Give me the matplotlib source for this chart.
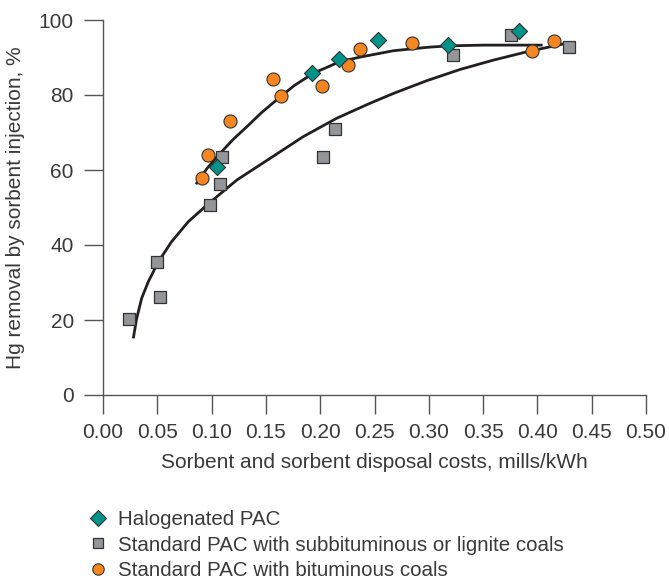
import matplotlib
matplotlib.use("Agg")
import matplotlib.pyplot as plt
from matplotlib.lines import Line2D

# ---- data ----
halo_x = [0.1047, 0.1927, 0.2170, 0.2535, 0.3180, 0.3833]
halo_y = [60.8, 85.9, 89.7, 94.7, 93.3, 97.2]

sub_x = [0.0242, 0.0500, 0.0525, 0.0988, 0.1080, 0.1096, 0.2026, 0.2139, 0.3220, 0.3754, 0.4294]
sub_y = [20.4, 35.6, 26.2, 50.6, 56.4, 63.5, 63.6, 70.9, 90.7, 96.0, 92.7]

bit_x = [0.0912, 0.0964, 0.1170, 0.1568, 0.1640, 0.2020, 0.2260, 0.2370, 0.2842, 0.3947, 0.4156]
bit_y = [58.0, 64.0, 73.2, 84.3, 79.7, 82.5, 87.9, 92.2, 94.0, 91.7, 94.4]

# fitted curves, read as points along the drawn lines
upper_x = [0.0856, 0.0960, 0.1077, 0.1200, 0.1323, 0.1460, 0.1599, 0.1760, 0.1937, 0.2182,
           0.2366, 0.2673, 0.2980, 0.3180, 0.3500, 0.4048]
upper_y = [56.2, 60.5, 64.4, 68.2, 71.5, 75.3, 78.7, 82.5, 85.8, 88.9,
           90.1, 91.8, 92.7, 93.1, 93.3, 93.3]

lower_x = [0.0279, 0.0310, 0.0356, 0.0417, 0.0509, 0.0632, 0.0785, 0.0939, 0.1123, 0.1231,
           0.1538, 0.1844, 0.2152, 0.2459, 0.2673, 0.2980, 0.3287, 0.3594, 0.3900, 0.4270]
lower_y = [15.1, 20.4, 25.8, 30.2, 35.5, 40.9, 46.2, 50.2, 54.7, 57.3,
           63.1, 68.9, 73.8, 77.8, 80.4, 83.8, 86.8, 89.3, 91.5, 93.8]

x_ticks = [0.00, 0.05, 0.10, 0.15, 0.20, 0.25, 0.30, 0.35, 0.40, 0.45, 0.50]
y_ticks = [0, 20, 40, 60, 80, 100]

labels = ["Halogenated PAC",
          "Standard PAC with subbituminous or lignite coals",
          "Standard PAC with bituminous coals"]

# ---- style ----
TEXT = "#3a3a3a"
TEAL = "#00938a"
GRAY = "#939598"
ORANGE = "#f5861f"
EDGE = "#333333"
LINE = "#231f20"
FS = 15

plt.rcParams["font.family"] = ["Liberation Sans", "DejaVu Sans"]

W, H = 669, 585
fig = plt.figure(figsize=(W / 100, H / 100), dpi=100)
ax = fig.add_axes([103 / W, 1 - 395 / H, (646 - 103) / W, (395 - 20) / H])

ax.plot(upper_x, upper_y, color=LINE, lw=2.0, zorder=2, solid_capstyle="butt", solid_joinstyle="round")
ax.plot(lower_x, lower_y, color=LINE, lw=2.0, zorder=2, solid_capstyle="butt", solid_joinstyle="round")

ax.scatter(sub_x, sub_y, marker="s", s=8.6 ** 2, facecolor=GRAY, edgecolor=EDGE, linewidth=0.9, zorder=3)
ax.scatter(bit_x, bit_y, marker="o", s=9.4 ** 2, facecolor=ORANGE, edgecolor=EDGE, linewidth=0.8, zorder=4)
ax.scatter(halo_x, halo_y, marker="D", s=8.2 ** 2, facecolor=TEAL, edgecolor=EDGE, linewidth=0.8, zorder=5)

ax.set_xlim(0, 0.5)
ax.set_ylim(0, 100)
ax.set_xticks(x_ticks)
ax.set_xticklabels([f"{v:.2f}" for v in x_ticks])
ax.set_yticks(y_ticks)
ax.set_yticklabels([str(v) for v in y_ticks])

for s in ["top", "right"]:
    ax.spines[s].set_visible(False)
for s in ["left", "bottom"]:
    ax.spines[s].set_color("#555555")
    ax.spines[s].set_linewidth(1.0)

ax.tick_params(axis="both", direction="out", length=14, width=1.0, color="#555555",
               labelsize=FS, labelcolor=TEXT)
ax.tick_params(axis="x", pad=6)
ax.tick_params(axis="y", pad=7)

fig.text(374.5 / W, 1 - 462 / H, "Sorbent and sorbent disposal costs, mills/kWh",
         ha="center", va="center", fontsize=FS, color=TEXT)
fig.text(16 / W, 1 - 207.5 / H, "Hg removal by sorbent injection, %",
         ha="center", va="center", rotation=90, fontsize=FS, color=TEXT)

handles = [
    Line2D([], [], ls="none", marker="D", markersize=8.4, markerfacecolor=TEAL, markeredgecolor=EDGE, markeredgewidth=0.8),
    Line2D([], [], ls="none", marker="s", markersize=7.8, markerfacecolor=GRAY, markeredgecolor=EDGE, markeredgewidth=0.9),
    Line2D([], [], ls="none", marker="o", markersize=8.2, markerfacecolor=ORANGE, markeredgecolor=EDGE, markeredgewidth=0.8),
]
fig.legend(handles, labels, loc="upper left", bbox_to_anchor=(88 / W, 1 - 510 / H),
           frameon=False, fontsize=14.8, labelcolor=TEXT, handlelength=0.95,
           handletextpad=0.5, labelspacing=0.32, borderpad=0, borderaxespad=0)

fig.savefig("out.png", dpi=100)
